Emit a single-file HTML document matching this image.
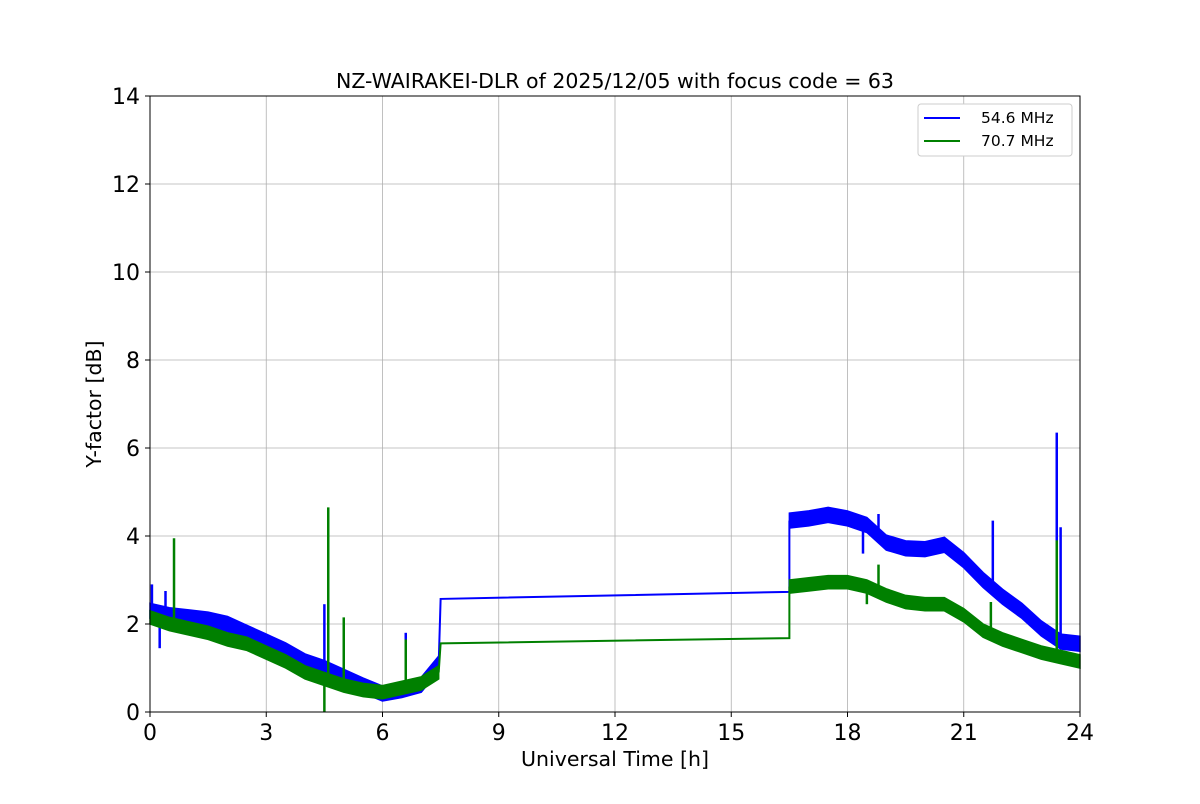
<!DOCTYPE html>
<html><head><meta charset="utf-8"><style>
body{margin:0;background:#fff;font-family:"DejaVu Sans","Liberation Sans",sans-serif}
</style></head><body>
<svg id="chart" width="1200" height="800" xmlns="http://www.w3.org/2000/svg" font-family="DejaVu Sans, Liberation Sans, sans-serif">
<rect width="1200" height="800" fill="#fff"/>
<g id="grid"></g>
<g id="series"></g>
<rect x="150" y="96" width="930" height="616" fill="none" stroke="#000" stroke-width="1"/>
<g id="ticks"></g>
<text x="615" y="88" font-size="20.5" text-anchor="middle">NZ-WAIRAKEI-DLR of 2025/12/05 with focus code = 63</text>
<text x="615" y="766" font-size="20.5" text-anchor="middle">Universal Time [h]</text>
<text x="101" y="404" font-size="20.5" text-anchor="middle" transform="rotate(-90 101 404)">Y-factor [dB]</text>
<g>
<rect x="918" y="104" width="154" height="52" rx="3" fill="#fff" stroke="#ccc"/>
<line x1="924" y1="118" x2="960" y2="118" stroke="#0000ff" stroke-width="2"/>
<text x="981" y="123" font-size="15.5">54.6 MHz</text>
<line x1="924" y1="141" x2="960" y2="141" stroke="#008000" stroke-width="2"/>
<text x="981" y="146" font-size="15.5">70.7 MHz</text>
</g>
</svg>
<script>
const xTicks=[0,3,6,9,12,15,18,21,24];
const yTicks=[0,2,4,6,8,10,12,14];
const t1=[0,0.5,1,1.5,2,2.5,3,3.5,4,4.5,5,5.5,6,6.5,7,7.45];
const blue1=[2.3,2.2,2.15,2.1,2.0,1.8,1.6,1.4,1.15,1.0,0.8,0.6,0.42,0.5,0.62,1.1];
const green1=[2.15,2.0,1.9,1.8,1.65,1.55,1.35,1.15,0.9,0.75,0.6,0.5,0.45,0.55,0.65,0.9];
const tGap=[7.5,16.5];
const blueGap=[2.57,2.73];
const greenGap=[1.56,1.68];
const t2=[16.5,17,17.5,18,18.5,19,19.5,20,20.5,21,21.5,22,22.5,23,23.5,24];
const blue2=[4.35,4.4,4.48,4.4,4.25,3.85,3.72,3.7,3.8,3.45,3.0,2.62,2.3,1.9,1.6,1.55];
const green2=[2.85,2.9,2.95,2.95,2.85,2.65,2.5,2.45,2.45,2.2,1.85,1.65,1.5,1.35,1.25,1.15];
const blueNoise=0.17, greenNoise=0.15;
const blueSpikeT=[0.05,0.25,0.4,4.5,4.6,5.0,6.6,18.4,18.8,21.75,23.4,23.5];
const blueSpikeV=[2.9,1.45,2.75,2.45,1.7,2.1,1.8,3.6,4.5,4.35,6.35,4.2];
const greenSpikeT=[0.62,4.5,4.6,5.0,6.6,18.5,18.8,21.7,23.4];
const greenSpikeV=[3.95,0.0,4.65,2.15,1.65,2.45,3.35,2.5,3.9];

const X=t=>150+t*930/24, Y=v=>712-v*616/14;
const NS="http://www.w3.org/2000/svg";
function mk(tag,attrs,parent){const e=document.createElementNS(NS,tag);for(const k in attrs)e.setAttribute(k,attrs[k]);parent.appendChild(e);return e;}
const grid=document.getElementById('grid'),ticks=document.getElementById('ticks'),ser=document.getElementById('series');
xTicks.forEach(t=>{
 const g=mk('line',{x1:X(t),x2:X(t),y1:96,y2:712,stroke:'#b0b0b0','stroke-width':0.8},grid);
 
 
 mk('line',{x1:X(t),x2:X(t),y1:712,y2:717,stroke:'#000'},ticks);
 const l=mk('text',{x:X(t),y:740,'font-size':22,'text-anchor':'middle'},ticks);l.textContent=t;
 
 
});
yTicks.forEach(v=>{
 const g=mk('line',{x1:150,x2:1080,y1:Y(v),y2:Y(v),stroke:'#b0b0b0','stroke-width':0.8},grid);
 
 
 mk('line',{x1:145,x2:150,y1:Y(v),y2:Y(v),stroke:'#000'},ticks);
 const l=mk('text',{x:140,y:Y(v)+8,'font-size':22,'text-anchor':'end'},ticks);l.textContent=v;
 
 
});
function band(ts,vs,n,color,name){
 const up=ts.map((t,i)=>X(t)+','+Y(vs[i]+n)).join(' ');
 const dn=ts.map((t,i)=>X(t)+','+Y(Math.max(0,vs[i]-n))).reverse().join(' ');
 const p=mk('polygon',{points:up+' '+dn,fill:color,stroke:color,'stroke-width':1.5},ser);
 
 
}
function line(ts,vs,color,name){
 const p=mk('polyline',{points:ts.map((t,i)=>X(t)+','+Y(vs[i])).join(' '),fill:'none',stroke:color,'stroke-width':2},ser);
 
 
}
function spikes(ts,vs,baseT,baseV,color,name){
 ts.forEach((t,i)=>{
  let b=baseV[0];for(let j=0;j<baseT.length-1;j++){if(t>=baseT[j]&&t<=baseT[j+1]){b=baseV[j]+(baseV[j+1]-baseV[j])*(t-baseT[j])/(baseT[j+1]-baseT[j]);}}
  const l=mk('line',{x1:X(t),x2:X(t),y1:Y(b),y2:Y(vs[i]),stroke:color,'stroke-width':2.5},ser);
  
  
 });
}
const blue='#0000ff',green='#008000';
band(t1,blue1,blueNoise,blue,'blue-series-early');
line([t1[t1.length-1],tGap[0],tGap[1],t2[0]],[blue1[blue1.length-1],blueGap[0],blueGap[1],blue2[0]],blue,'blue-series-gap');
band(t2,blue2,blueNoise,blue,'blue-series-late');
spikes(blueSpikeT,blueSpikeV,t1.concat(t2),blue1.concat(blue2),blue,'blue-spike');
band(t1,green1,greenNoise,green,'green-series-early');
line([t1[t1.length-1],tGap[0],tGap[1],t2[0]],[green1[green1.length-1],greenGap[0],greenGap[1],green2[0]],green,'green-series-gap');
band(t2,green2,greenNoise,green,'green-series-late');
spikes(greenSpikeT,greenSpikeV,t1.concat(t2),green1.concat(green2),green,'green-spike');
</script>
</body></html>
